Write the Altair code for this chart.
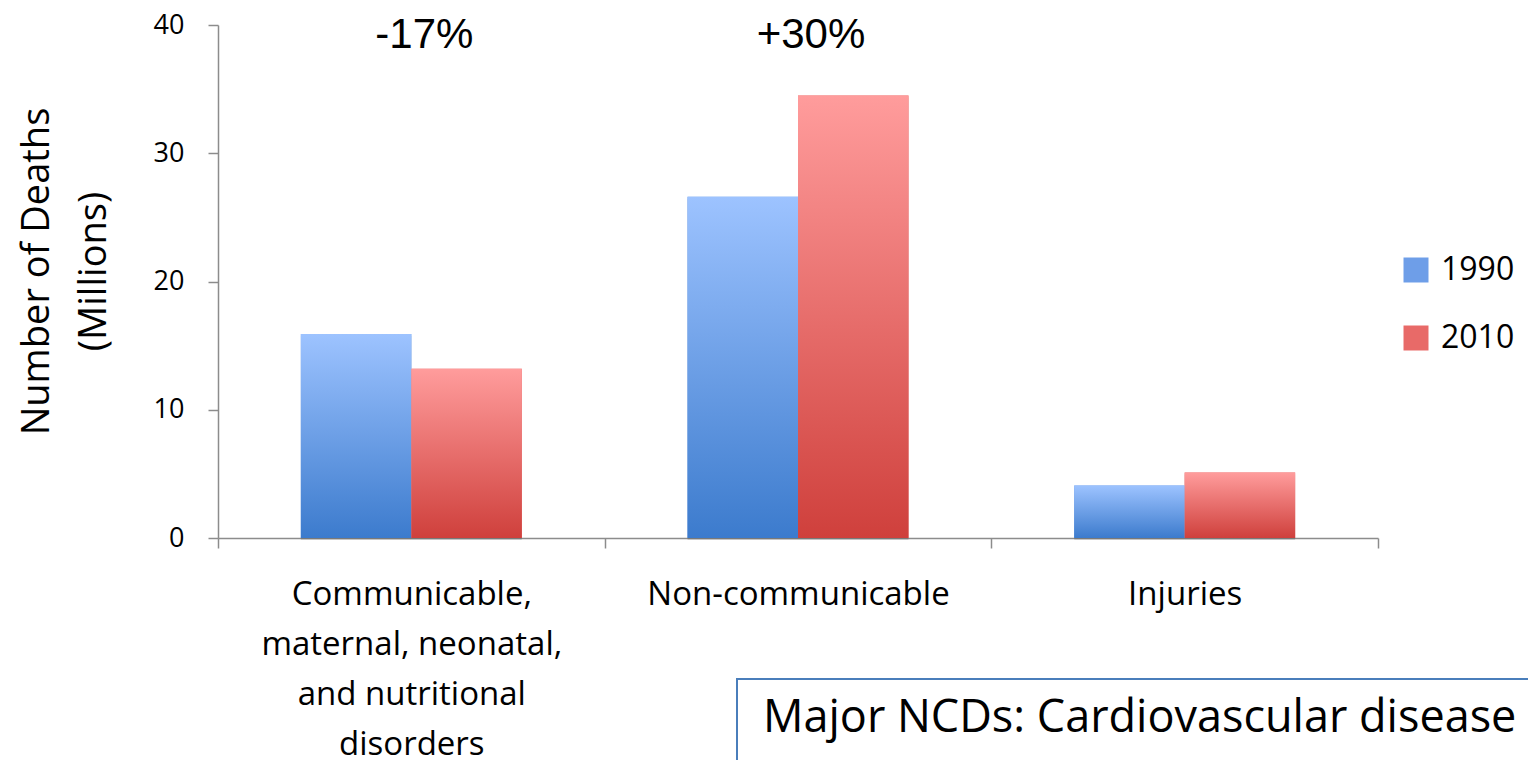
import altair as alt
import pandas as pd

# ---------------- data ----------------
category_lines = [
    ["Communicable,", "maternal, neonatal,", "and nutritional", "disorders"],
    ["Non-communicable"],
    ["Injuries"],
]
categories = [" ".join(l) for l in category_lines]
years = ["1990", "2010"]
deaths_1990 = [15.9, 26.6, 4.1]
deaths_2010 = [13.2, 34.5, 5.1]
change_labels = ["-17%", "+30%"]
change_categories = categories[:2]
y_ticks = [0, 10, 20, 30, 40]
y_title = ["Number of Deaths", "(Millions)"]
note_text_value = "Major NCDs: Cardiovascular disease"

rows = []
for c, a, b in zip(categories, deaths_1990, deaths_2010):
    rows.append({"category": c, "year": years[0], "deaths": a})
    rows.append({"category": c, "year": years[1], "deaths": b})
df = pd.DataFrame(rows)
df_change = pd.DataFrame({"category": change_categories, "label": change_labels})
df_note = pd.DataFrame({"note": [note_text_value]})

# ---------------- styles ----------------
AXIS_GREY = "#8C8C8C"
FONT = "Open Sans"

def gradient(top, bottom):
    return {
        "gradient": "linear",
        "x1": 0, "y1": 0, "x2": 0, "y2": 1,
        "stops": [{"offset": 0, "color": top}, {"offset": 1, "color": bottom}],
    }

grad_blue = gradient("#9DC3FF", "#3C7BCD")
grad_red = gradient("#FF9C9C", "#CF403C")

# label expression for multi-line category labels
parts = []
for name, lines in zip(categories, category_lines):
    arr = "[" + ", ".join("'" + l + "'" for l in lines) + "]"
    parts.append(f"datum.value == '{name}' ? {arr} : ")
label_expr = "".join(parts) + "datum.value"

x_enc = alt.X(
    "category:N",
    sort=categories,
    scale=alt.Scale(domain=categories, paddingInner=0, paddingOuter=0),
    axis=alt.Axis(
        title=None, labelAngle=0, labelFont=FONT, labelFontSize=33, labelColor="black",
        labelLineHeight=50, labelPadding=30, labelLimit=600, labelOverlap=False,
        tickSize=10, tickBand="extent", tickColor=AXIS_GREY, tickWidth=1.5,
        domainColor=AXIS_GREY, domainWidth=1.5, labelExpr=label_expr, grid=False,
    ),
)
xo_enc = alt.XOffset("year:N", scale=alt.Scale(domain=years, paddingInner=0, paddingOuter=0.75))
y_enc = alt.Y(
    "deaths:Q",
    scale=alt.Scale(domain=[0, 40], nice=False),
    axis=alt.Axis(
        values=y_ticks, title=y_title, titleFont=FONT, titleFontSize=38,
        titleFontWeight="normal", titleColor="black", titleLineHeight=57,
        titleBaseline="top", titleAlign="center", titleX=-200, titleY=246,
        labelFont=FONT, labelFontSize=27, labelColor="black", labelPadding=24,
        tickSize=10, tickColor=AXIS_GREY, tickWidth=1.5,
        domainColor=AXIS_GREY, domainWidth=1.5, grid=False,
    ),
)

# soft shadow behind the bars
shadow_bars = alt.Chart(df).mark_bar(
    xOffset=3, yOffset=2, color="#000000", opacity=0.13
).encode(x=x_enc, xOffset=xo_enc, y=y_enc)

# solid bars (carry the legend), covered by gradient bars
legend_bars = alt.Chart(df).mark_bar().encode(
    x=x_enc, xOffset=xo_enc, y=y_enc,
    fill=alt.Fill(
        "year:N",
        scale=alt.Scale(domain=years, range=["#6E9EE8", "#E86A68"]),
        legend=alt.Legend(
            title=None, orient="none", legendX=1182, legendY=229,
            symbolType="square", symbolSize=625, symbolStrokeWidth=0, symbolOpacity=1,
            labelFont=FONT, labelFontSize=32, labelColor="black", labelOffset=9,
            rowPadding=36, padding=0,
        ),
    ),
)

grad_bars = alt.Chart(df).mark_bar().encode(
    x=x_enc, xOffset=xo_enc, y=y_enc,
    fill=alt.condition(f"datum.year == '{years[0]}'", alt.value(grad_blue), alt.value(grad_red)),
)

change_text = alt.Chart(df_change).mark_text(
    font="Liberation Sans", fontSize=42, align="center", baseline="alphabetic", color="black", dx=13
).encode(x=x_enc, y=alt.value(23), text="label:N")

note_box = alt.Chart(df_note).mark_rect(
    fill="white", stroke="#4A7EBB", strokeWidth=2
).encode(x=alt.value(519), x2=alt.value(1500), y=alt.value(654), y2=alt.value(900))

note_text = alt.Chart(df_note).mark_text(
    font=FONT, fontSize=45, align="left", baseline="alphabetic", color="black",
).encode(x=alt.value(545), y=alt.value(707), text="note:N")

chart = alt.layer(shadow_bars, legend_bars, grad_bars, change_text, note_box, note_text).properties(
    width=1160, height=513,
    autosize=alt.AutoSizeParams(type="none"),
    padding={"left": 210, "top": 17, "right": 150, "bottom": 222},
    background="white",
).configure_view(strokeWidth=0)

chart.save("out.html", embed_options={"renderer": "svg", "actions": False})
